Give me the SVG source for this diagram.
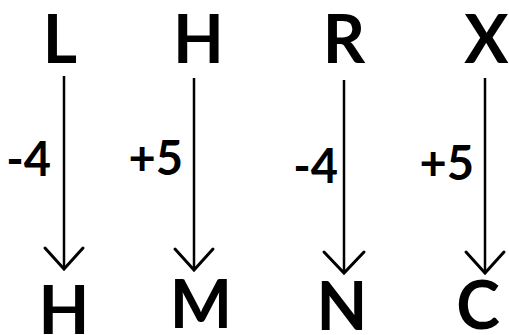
<svg xmlns="http://www.w3.org/2000/svg" width="509" height="335" viewBox="0 0 509 335">
<style>
.let{font-family:Lato,"Liberation Sans",Arial,sans-serif;font-weight:bold;font-size:66px;fill:#000;text-anchor:middle}
.lab{font-family:Lato,"Liberation Sans",Arial,sans-serif;font-weight:bold;font-size:47px;fill:#000;text-anchor:end}
.ln{stroke:#000;stroke-width:2.5;fill:none}
.hd{stroke:#000;stroke-width:3;fill:none;stroke-linecap:round;stroke-linejoin:miter}
</style>
<rect width="509" height="335" fill="#fff"/>
<g id="top-L"><text class="let" x="60" y="63">L</text></g>
<g id="top-H"><text class="let" x="198.5" y="63">H</text></g>
<g id="top-R"><text class="let" x="344" y="63">R</text></g>
<g id="top-X"><text class="let" x="486.5" y="63">X</text></g>
<g id="bot-H"><text class="let" x="64" y="334">H</text></g>
<g id="bot-M"><text class="let" x="201" y="328">M</text></g>
<g id="bot-N"><text class="let" x="342" y="330">N</text></g>
<g id="bot-C"><text class="let" x="478" y="329">C</text></g>
<g id="connectors">
<line class="ln" x1="64" y1="76" x2="64" y2="269"/>
<polyline class="hd" points="45,248 64,269 83,248"/>
<line class="ln" x1="194" y1="78" x2="194" y2="270"/>
<polyline class="hd" points="175,249 194,270 213,249"/>
<line class="ln" x1="344" y1="80" x2="344" y2="273"/>
<polyline class="hd" points="324,252 344,273 364,252"/>
<line class="ln" x1="485" y1="78" x2="485" y2="273"/>
<polyline class="hd" points="466,252 485,273 504,252"/>
<text class="lab" x="51" y="176">-4</text>
<text class="lab" x="183" y="175">+5</text>
<text class="lab" x="338" y="183">-4</text>
<text class="lab" x="474" y="180">+5</text>
</g>
</svg>
